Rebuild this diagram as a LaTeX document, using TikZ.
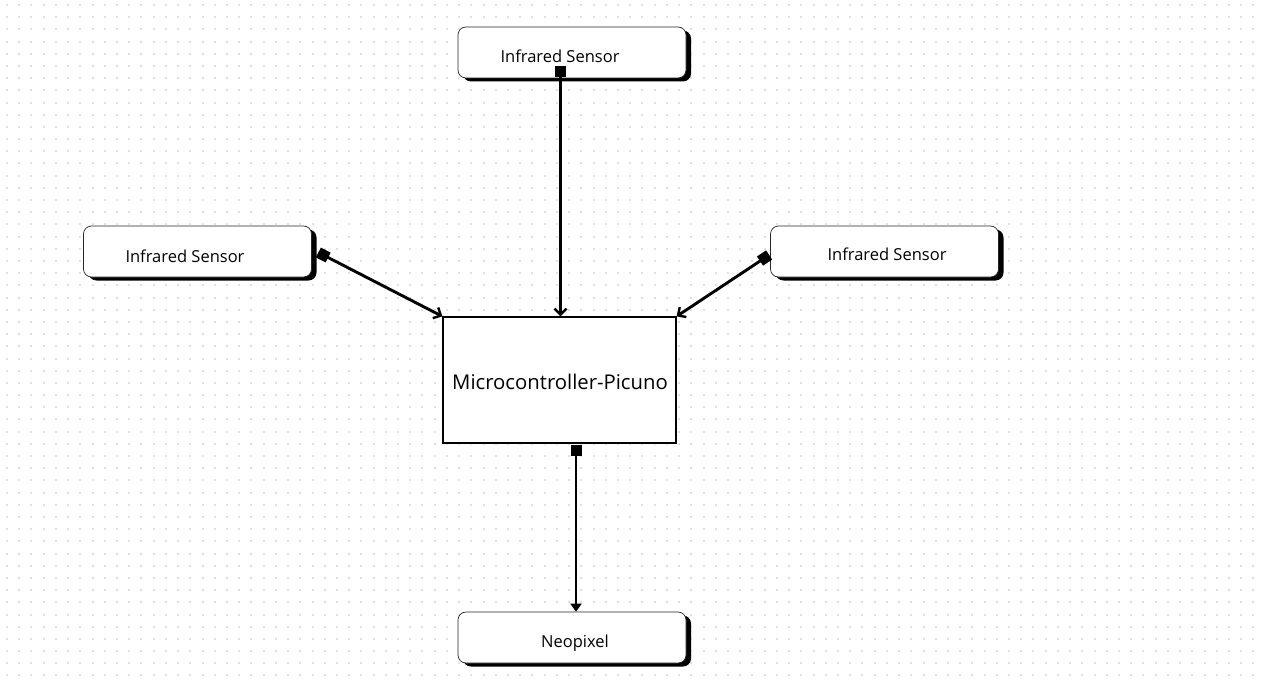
\documentclass[tikz,border=0pt]{standalone}
\usepackage{fontspec}
\setmainfont{Open Sans}
\usetikzlibrary{arrows.meta,shadows,calc}
\definecolor{dotc}{RGB}{224,224,232}
\tikzset{
  sensorbox/.style={draw=black!85, line width=0.7pt, rounded corners=8pt, fill=white,
    minimum width=228pt, minimum height=51pt, inner sep=0pt,
    drop shadow={shadow xshift=5pt, shadow yshift=-3.5pt, opacity=1, fill=black}},
  mcbox/.style={draw=black, line width=1.3pt, fill=white, minimum width=233pt, minimum height=126pt, inner sep=0pt},
  lbl/.style={font=\fontsize{16.5}{19}\selectfont, inner sep=0pt},
  mclbl/.style={font=\fontsize{20.3}{24}\selectfont, inner sep=0pt},
  conn/.style={line width=2.9pt, {Square[length=11pt,width=11pt]}-{Straight Barb[length=6pt,width=12pt,line width=2.4pt]}},
  connb/.style={line width=2.9pt, {Square[length=11pt,width=11pt]}-{Triangle[length=8pt,width=11pt]}}
}
\begin{document}
\begin{tikzpicture}[x=1pt,y=-1pt]
\useasboundingbox (0,0) rectangle (1263,682);
\fill[white] (0,0) rectangle (1263,682);
\foreach \i in {0,...,102}{
  \foreach \j in {0,...,55}{
    \fill[dotc] ({7+\i*12.22-1},{5+\j*12.19-1}) rectangle ++(2,2);
  }
}
\node[sensorbox] (top) at (572,52.5) {};
\node[sensorbox] (left) at (197.5,251.5) {};
\node[sensorbox] (right) at (884.5,251.5) {};
\node[sensorbox] (neo) at (572,637.5) {};
\node[mcbox] (mc) at (559.5,380) {};
\node[lbl] (topt) at (560,56) {Infrared Sensor};
\node[lbl] (leftt) at (185,256) {Infrared Sensor};
\node[lbl] (rightt) at (887,254) {Infrared Sensor};
\node[lbl] (neot) at (575,643) {Neopixel};
\node[mclbl] (mct) at (560,382) {Microcontroller-Picuno};
\coordinate (ts) at ($(top.south)+(-11.5,-12)$);
\coordinate (ls) at ($(left.east)+(6.5,1)$);
\coordinate (rs) at ($(right.west)+(-1,3.5)$);
\coordinate (bs) at ($(mc.south)+(16.5,1)$);
\draw[conn] (ts) -- (ts |- mc.north);
\draw[conn] (ls) -- (mc.north west);
\draw[conn] (rs) -- (mc.north east);
\draw[connb] (bs) -- (bs |- neo.north);
\end{tikzpicture}
\end{document}
